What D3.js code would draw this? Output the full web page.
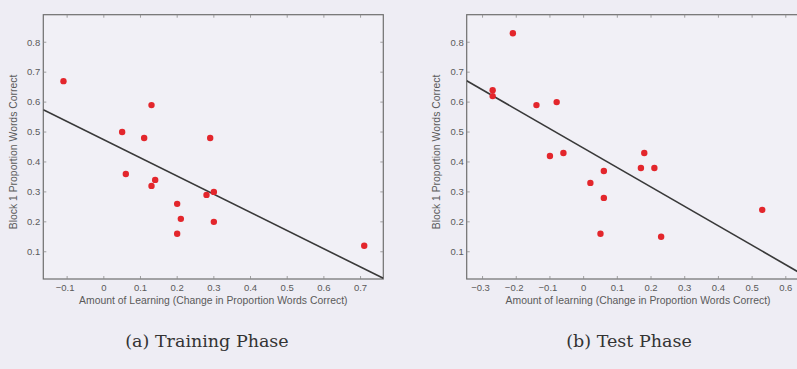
<!DOCTYPE html>
<html>
<head>
<meta charset="utf-8">
<script src="https://cdn.jsdelivr.net/npm/d3@7"></script>
<style>
	body { margin: 0; background: #eeedf4; }
	svg { display: block; }
	.tick-label { font-family: "Liberation Sans", Arial, sans-serif; font-size: 9.5px; fill: #5a5a5a; }
	.axis-label { font-family: "Liberation Sans", Arial, sans-serif; font-size: 10.4px; fill: #5a5a5a; }
	.caption { font-family: "DejaVu Serif", serif; font-size: 17.5px; fill: #333; }
</style>
</head>
<body>
<svg id="chart"></svg>
<script>
// Training phase points
var trainX = [-0.11, 0.13, 0.05, 0.11, 0.29, 0.06, 0.14, 0.13, 0.28, 0.30, 0.20, 0.21, 0.30, 0.20, 0.71];
var trainY = [0.67, 0.59, 0.50, 0.48, 0.48, 0.36, 0.34, 0.32, 0.29, 0.30, 0.26, 0.21, 0.20, 0.16, 0.12];
var trainFit = [0.474, -0.607]; // intercept, slope

// Test phase points
var testX = [-0.21, -0.27, -0.27, -0.14, -0.08, -0.10, -0.06, 0.02, 0.06, 0.06, 0.05, 0.17, 0.18, 0.21, 0.23, 0.53];
var testY = [0.83, 0.64, 0.62, 0.59, 0.60, 0.42, 0.43, 0.33, 0.37, 0.28, 0.16, 0.38, 0.43, 0.38, 0.15, 0.24];
var testFit = [0.446, -0.649];

var trainTicks = [-0.1, 0, 0.1, 0.2, 0.3, 0.4, 0.5, 0.6, 0.7];
var testTicks = [-0.3, -0.2, -0.1, 0, 0.1, 0.2, 0.3, 0.4, 0.5, 0.6];
var yTicks = [0.1, 0.2, 0.3, 0.4, 0.5, 0.6, 0.7, 0.8];

var width = 797;
var height = 369;

var svg = d3.select("#chart")
	.attr("width", width)
	.attr("height", height);

function fmt(v) {
	if (v === 0) return "0";
	return (v < 0 ? "\u22120" : "0") + d3.format(".1f")(Math.abs(v)).slice(1);
}

function drawPanel(p) {
	var xScale = d3.scaleLinear().domain(p.xDomain).range([p.left, p.right]);
	var yScale = d3.scaleLinear().domain([0.009, 0.892]).range([279, 14.7]);

	var g = svg.append("g");

	g.append("clipPath").attr("id", p.id + "-clip")
		.append("rect")
		.attr("x", p.left).attr("y", 14.7)
		.attr("width", p.right - p.left).attr("height", 279 - 14.7);

	g.append("rect")
		.attr("x", p.left).attr("y", 14.7)
		.attr("width", p.right - p.left).attr("height", 279 - 14.7)
		.attr("fill", "#f1f0f6")
		.attr("stroke", "#6e6e6e")
		.attr("stroke-width", 1.2);

	// inner ticks on all four sides
	var tickColor = "#8a8a8a";
	g.selectAll(".xt").data(p.ticks).enter().append("path")
		.attr("d", function(d) {
			var x = xScale(d);
			return "M" + x + ",279v-3M" + x + ",14.7v3";
		})
		.attr("stroke", tickColor).attr("stroke-width", 0.8);
	g.selectAll(".yt").data(yTicks).enter().append("path")
		.attr("d", function(d) {
			var y = yScale(d);
			return "M" + p.left + "," + y + "h3M" + p.right + "," + y + "h-3";
		})
		.attr("stroke", tickColor).attr("stroke-width", 0.8);

	g.selectAll(".xl").data(p.ticks).enter().append("text")
		.attr("class", "tick-label")
		.attr("x", function(d) { return xScale(d) - (d < 0 ? 2 : 0); })
		.attr("y", 291)
		.attr("text-anchor", "middle")
		.text(fmt);
	g.selectAll(".yl").data(yTicks).enter().append("text")
		.attr("class", "tick-label")
		.attr("x", p.left - 3)
		.attr("y", function(d) { return yScale(d) + 3.3; })
		.attr("text-anchor", "end")
		.text(fmt);

	g.append("text")
		.attr("class", "axis-label")
		.attr("x", (p.left + p.right) / 2)
		.attr("y", 304)
		.attr("text-anchor", "middle")
		.text(p.xLabel);

	g.append("text")
		.attr("class", "axis-label")
		.attr("text-anchor", "middle")
		.attr("transform", "translate(" + (p.left - 26.5) + ",152)rotate(-90)")
		.text("Block 1 Proportion Words Correct");

	// regression line
	var x0 = p.xDomain[0], x1 = p.xDomain[1];
	g.append("line")
		.attr("clip-path", "url(#" + p.id + "-clip)")
		.attr("x1", xScale(x0)).attr("y1", yScale(p.fit[0] + p.fit[1] * x0))
		.attr("x2", xScale(x1)).attr("y2", yScale(p.fit[0] + p.fit[1] * x1))
		.attr("stroke", "#393939")
		.attr("stroke-width", 1.6);

	g.selectAll("circle")
		.data(p.xs)
		.enter()
		.append("circle")
		.attr("cx", function(d) { return xScale(d); })
		.attr("cy", function(d, i) { return yScale(p.ys[i]); })
		.attr("r", 3.2)
		.attr("fill", "#e3262c");

	g.append("text")
		.attr("class", "caption")
		.attr("x", p.captionX)
		.attr("y", 347)
		.attr("text-anchor", "middle")
		.text(p.caption);
}

drawPanel({
	id: "train",
	left: 43.3, right: 383.3,
	xDomain: [-0.165, 0.762],
	ticks: trainTicks,
	xs: trainX, ys: trainY, fit: trainFit,
	xLabel: "Amount of Learning (Change in Proportion Words Correct)",
	caption: "(a) Training Phase",
	captionX: 207
});

drawPanel({
	id: "test",
	left: 466.7, right: 809.4,
	xDomain: [-0.347, 0.67],
	ticks: testTicks,
	xs: testX, ys: testY, fit: testFit,
	xLabel: "Amount of learning (Change in Proportion Words Correct)",
	caption: "(b) Test Phase",
	captionX: 629
});
</script>
</body>
</html>
